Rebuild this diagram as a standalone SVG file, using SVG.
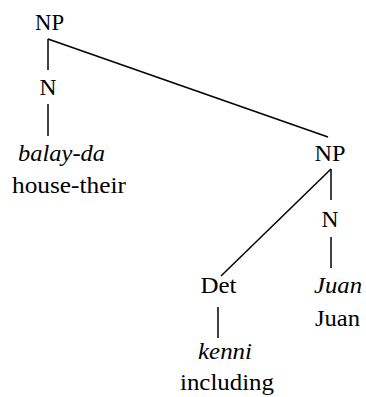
<svg xmlns="http://www.w3.org/2000/svg" width="366" height="397" viewBox="0 0 366 397">
<defs>
<style>
line{stroke:#000;stroke-width:1.5}
text{lengthAdjust:spacingAndGlyphs}
</style>
</defs>
<rect width="366" height="397" fill="#fff"/>
<g id="connectors">
<line x1="48" y1="39" x2="48" y2="70"/>
<line x1="48" y1="104" x2="48" y2="136"/>
<line x1="48" y1="39" x2="328" y2="137"/>
<line x1="331" y1="169" x2="331" y2="200"/>
<line x1="331" y1="237" x2="331" y2="268"/>
<line x1="331" y1="169" x2="221" y2="276"/>
<line x1="218" y1="307" x2="218" y2="338"/>
</g>
<g font-family="'Liberation Serif', Tinos, 'Times New Roman', Times, 'DejaVu Serif', serif" font-size="24" fill="#000" text-anchor="middle">
<g id="np1"><text x="49.5" y="30" textLength="29" lengthAdjust="spacingAndGlyphs">NP</text></g>
<g id="n1"><text x="48" y="95" textLength="17" lengthAdjust="spacingAndGlyphs">N</text></g>
<g id="leaf1"><text font-style="italic" x="61.5" y="161" textLength="87" lengthAdjust="spacingAndGlyphs">balay-da</text><text x="69" y="193" textLength="114" lengthAdjust="spacingAndGlyphs">house-their</text></g>
<g id="np2"><text x="330" y="161" textLength="31" lengthAdjust="spacingAndGlyphs">NP</text></g>
<g id="n2"><text x="330" y="227" textLength="17" lengthAdjust="spacingAndGlyphs">N</text></g>
<g id="leaf2"><text font-style="italic" x="338" y="293" textLength="48" lengthAdjust="spacingAndGlyphs">Juan</text><text x="337.5" y="326" textLength="45" lengthAdjust="spacingAndGlyphs">Juan</text></g>
<g id="det"><text x="218.5" y="293" textLength="36" lengthAdjust="spacingAndGlyphs">Det</text></g>
<g id="leaf3"><text font-style="italic" x="225" y="359" textLength="54" lengthAdjust="spacingAndGlyphs">kenni</text><text x="227" y="390" textLength="94" lengthAdjust="spacingAndGlyphs">including</text></g>
</g>
</svg>
